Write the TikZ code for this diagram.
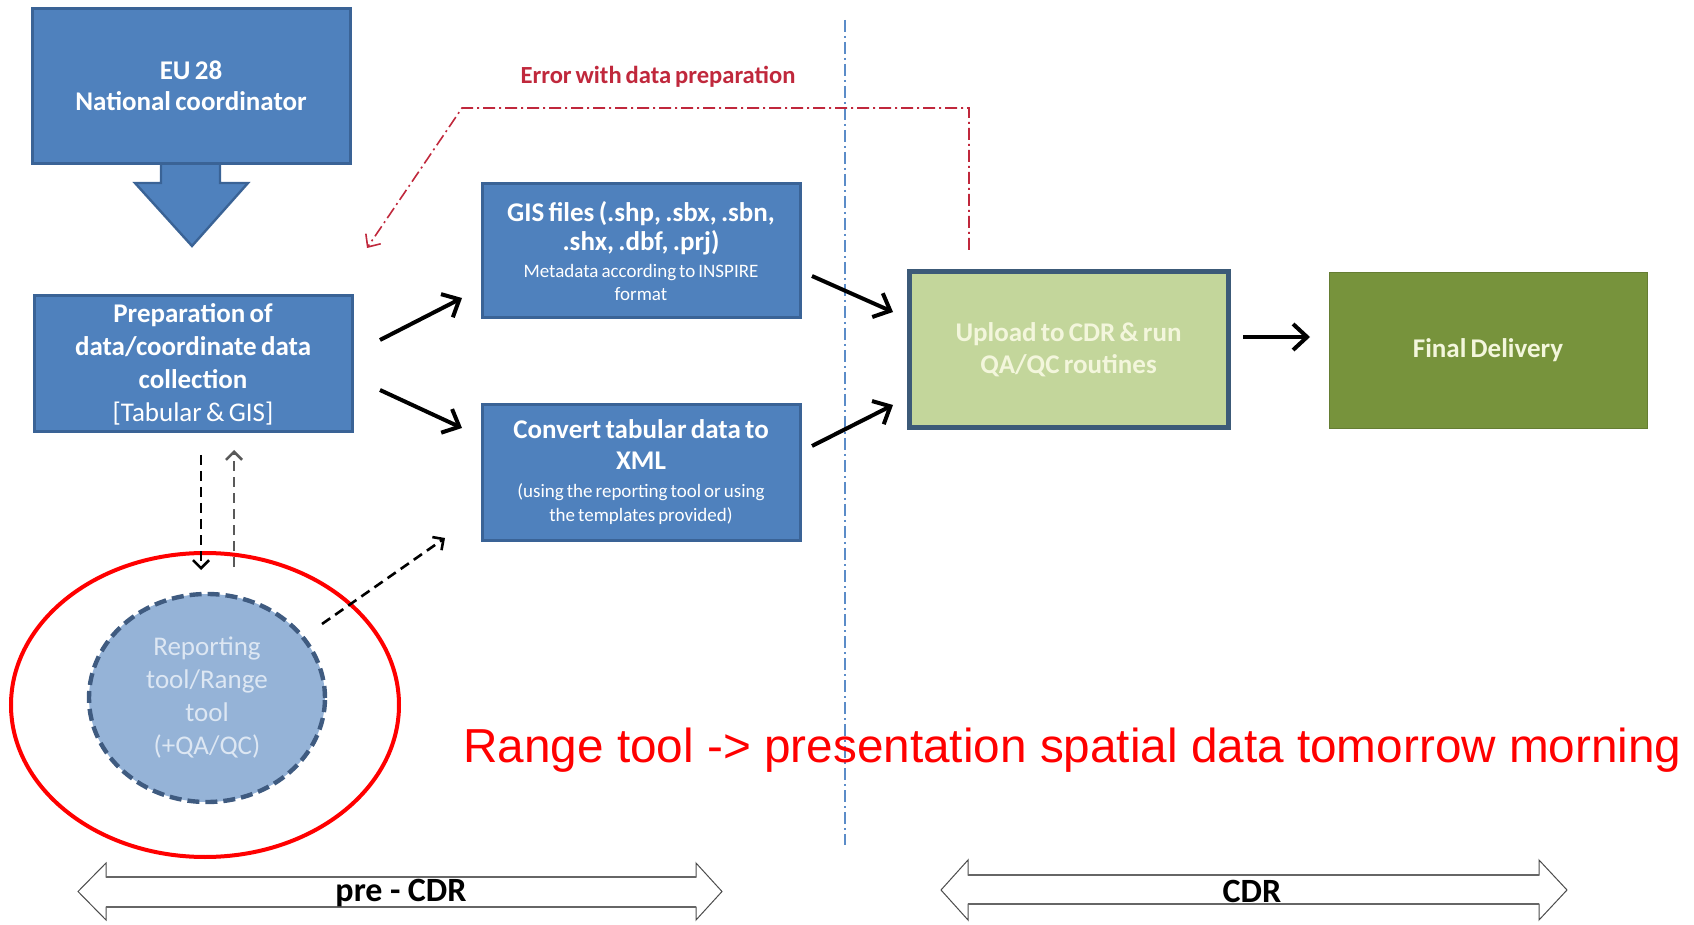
\documentclass[tikz,border=0pt]{standalone}
\usepackage{fontspec}
\setmainfont{Carlito}[WordSpace=0.7]
\newfontfamily\arialfont{Liberation Sans}
\usetikzlibrary{arrows.meta,shapes.geometric,calc}
\definecolor{boxblue}{HTML}{4F81BD}
\definecolor{boxborder}{HTML}{3A6396}
\definecolor{lightgreen}{HTML}{C3D69B}
\definecolor{greenborder}{HTML}{3C5A78}
\definecolor{olivebox}{HTML}{77933C}
\definecolor{paletext}{HTML}{F3F6DC}
\definecolor{repfill}{HTML}{95B3D7}
\definecolor{repborder}{HTML}{3F5B80}
\definecolor{reptext}{HTML}{DDE7F3}
\definecolor{errred}{HTML}{C0283C}
\definecolor{divblue}{HTML}{5B8CC8}
\tikzset{
  bluebox/.style={draw=boxborder, line width=1.5pt, fill=boxblue, text=white,
    align=flush center, inner sep=0pt, outer sep=0pt, minimum width=159pt, text width=152pt},
  thickarr/.style={line width=2pt, -{Straight Barb[length=7pt,width=13pt]}},
  dasharr/.style={line width=1.3pt, dash pattern=on 5pt off 3pt, -{Straight Barb[length=4pt,width=8pt]}},
  errline/.style={errred, line width=0.8pt, dash pattern=on 6pt off 2pt on 1pt off 2pt,
    -{Straight Barb[length=5pt,width=9pt]}},
  divline/.style={divblue, line width=0.7pt, dash pattern=on 6pt off 2pt on 1pt off 2pt},
  dblarrow/.style={draw=black!70, line width=0.5pt, fill=white},
  shaftline/.style={draw=black!60, line width=1.4pt},
  phaselabel/.style={font=\bfseries\fontsize{17}{20}\selectfont, inner sep=0pt},
}
\begin{document}
\begin{tikzpicture}[x={(0.5pt,0)}, y={(0,-0.5pt)}]
\useasboundingbox (0,0) rectangle (1694,925);

% divider
\coordinate (divtop) at (845,20);
\coordinate (divbot) at (845,845);
\draw[divline] (divtop) -- (divbot);

% block arrow under EU box
\draw[boxborder, line width=1.2pt, fill=boxblue] (161,160) -- (161,183) -- (135,183) -- (192,246) -- (248,183) -- (220,183) -- (220,160);

\node[bluebox, minimum height=77.5pt, font=\bfseries\fontsize{13.5}{15.5}\selectfont] (eu) at (191,86) {EU 28\\National coordinator};

\node[bluebox, minimum height=68pt] (prep) at (193,364)
  {\bfseries\fontsize{13.5}{16.5}\selectfont Preparation of\\ data/coordinate data\\ collection\\ \mdseries [Tabular \& GIS]\par};

\node[bluebox, minimum height=67pt] (gis) at (641,251)
  {\bfseries\fontsize{13.5}{14.5}\selectfont GIS files (.shp, .sbx, .sbn,\\ .shx, .dbf, .prj)\par
   \vspace{2pt}\mdseries\fontsize{9.5}{11.5}\selectfont Metadata according to INSPIRE\\ format\par};

\node[bluebox, minimum height=67.5pt] (conv) at (641,472.5)
  {\bfseries\fontsize{13.5}{15.5}\selectfont Convert tabular data to\\ XML\par
   \vspace{2pt}\mdseries\fontsize{9.5}{12}\selectfont (using the reporting tool or using\\ the templates provided)\par};

\node[draw=greenborder, line width=2.5pt, fill=lightgreen, text=paletext, align=flush center,
  inner sep=0pt, outer sep=0pt, minimum width=159.5pt, minimum height=78pt, text width=150pt,
  font=\bfseries\fontsize{13.5}{16}\selectfont] (up) at (1068.5,350)
  {Upload to CDR \& run\\ QA/QC routines};

\node[draw=olivebox!85!black, line width=0.4pt, fill=olivebox, text=paletext, align=center,
  inner sep=0pt, outer sep=0pt, minimum width=159pt, minimum height=78pt,
  font=\bfseries\fontsize{13.5}{15}\selectfont] (fin) at (1488,350) {Final Delivery};

% reporting tool ellipse
\node[ellipse, draw=repborder, line width=2.2pt, dash pattern=on 6pt off 3pt, fill=repfill,
  text=reptext, align=center, inner sep=0pt, outer sep=0pt, minimum width=118pt, minimum height=104pt,
  font=\fontsize{13.5}{16.5}\selectfont] (rep) at (207,698)
  {Reporting\\ tool/Range\\ tool\\ (+QA/QC)};

% red highlight ring
\node[ellipse, draw=red, line width=2pt, inner sep=0pt, outer sep=0pt,
  minimum width=194pt, minimum height=152pt] (ring) at (205,705) {};

% solid arrows
\draw[thickarr] ([shift={(28,-24)}]prep.east) -- ([shift={(-20,47)}]gis.west);
\draw[thickarr] ([shift={(28,26)}]prep.east) -- ([shift={(-20,-44.5)}]conv.west);
\draw[thickarr] ([shift={(12,25)}]gis.east) -- ([shift={(-16,-38)}]up.west);
\draw[thickarr] ([shift={(12,-26.5)}]conv.east) -- ([shift={(-16,55)}]up.west);
\draw[thickarr] ([shift={(15,-13)}]up.east) -- ([shift={(-19,-13)}]fin.west);

% dashed arrows
\draw[dasharr, black] ([shift={(8,23)}]prep.south) -- ([shift={(-6,-24)}]rep.north);
\draw[dasharr, black!65] ([shift={(27,-27)}]rep.north) -- ([shift={(41,18)}]prep.south);
\draw[dasharr, black] ([shift={(115,-74)}]rep.center) -- ([shift={(-37,-2)}]conv.south west);

% error feedback
\coordinate (errbend) at (462,108);
\draw[errline] ([shift={(60,-22)}]up.north west) -- ++(0,-142) -- (errbend) -- ([shift={(15,-48)}]prep.north east);
\node[text=errred, font=\bfseries\fontsize{12.3}{14}\selectfont, inner sep=0pt] (errlbl) at (658,77) {Error with data preparation};

% note
\node[anchor=base west, text=red, inner sep=0pt, font=\arialfont\fontsize{23.85}{28}\selectfont] (note) at (463,762)
  {Range tool -> presentation spatial data tomorrow morning};

% phase arrows
\draw[dblarrow] (78,891.5) -- (106,863) -- (106,877) -- (696,877) -- (696,863) -- (722,891.5) -- (696,920) -- (696,907) -- (106,907) -- (106,920) -- cycle;
\draw[shaftline] (106,877) -- (696,877);
\draw[shaftline] (106,907) -- (696,907);
\node[phaselabel] (pre) at (401,893) {pre\hspace{0.22em}-\hspace{0.22em}CDR};

\draw[dblarrow] (941,890) -- (968,860) -- (968,875) -- (1539,875) -- (1539,860) -- (1567,890) -- (1539,920) -- (1539,904) -- (968,904) -- (968,920) -- cycle;
\draw[shaftline] (968,875) -- (1539,875);
\draw[shaftline] (968,904) -- (1539,904);
\node[phaselabel] (cdr) at (1252,891) {CDR};
\end{tikzpicture}
\end{document}
